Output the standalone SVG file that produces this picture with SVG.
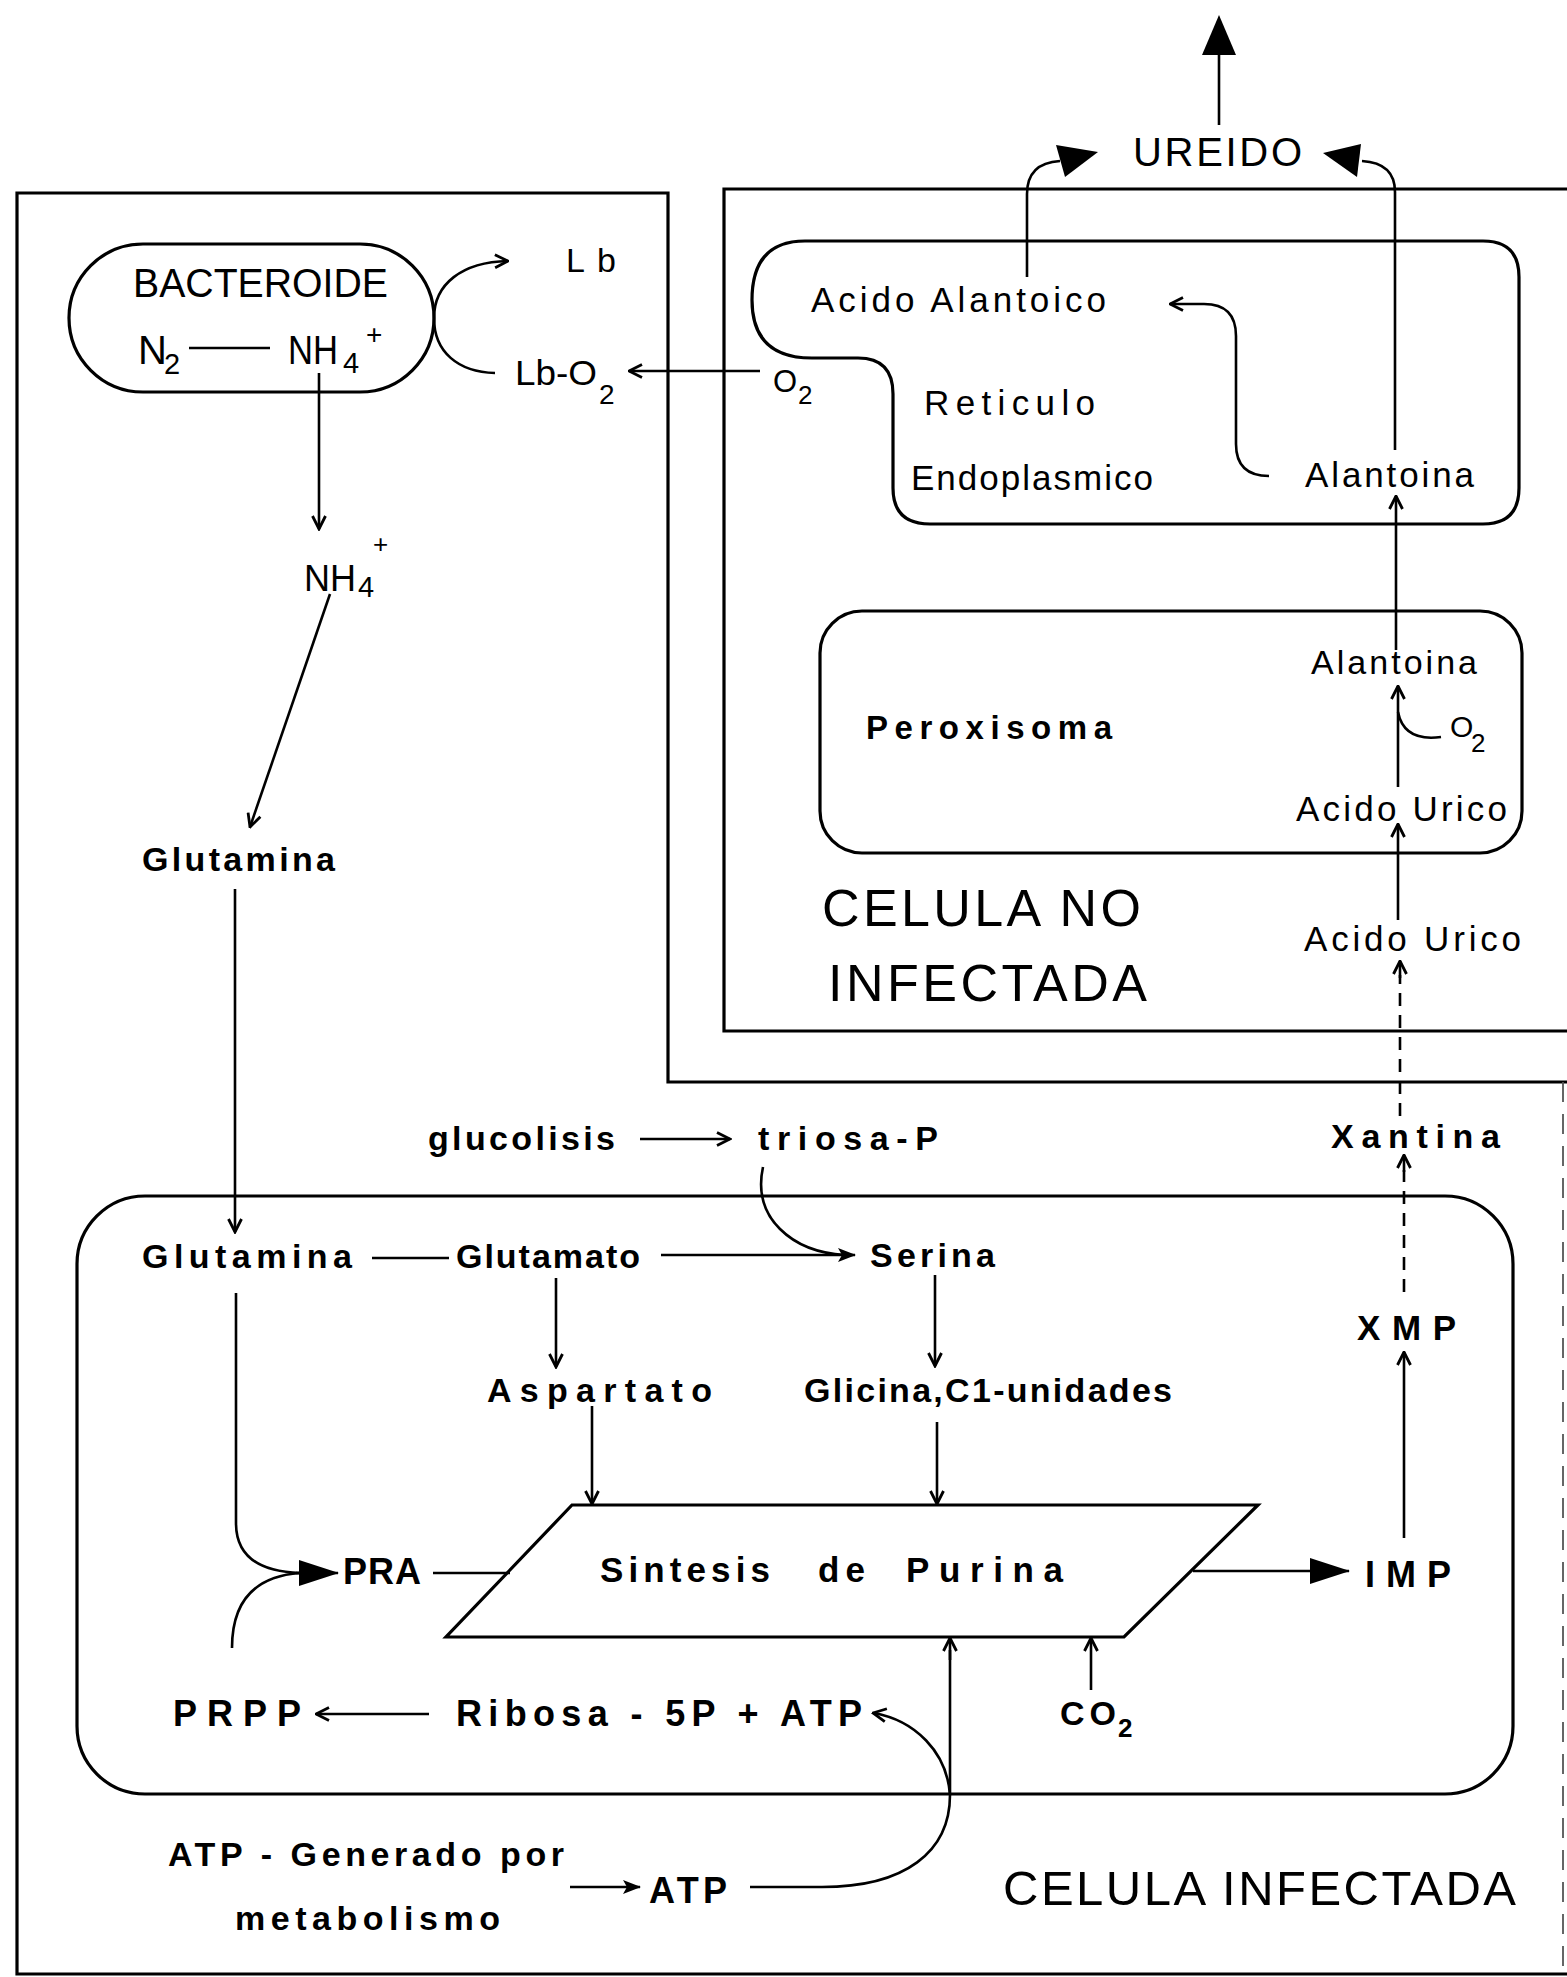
<svg xmlns="http://www.w3.org/2000/svg" width="1567" height="1977" viewBox="0 0 1567 1977">
<style>
text{font-family:"Liberation Sans","DejaVu Sans",Arial,sans-serif;fill:#000}
.b{font-weight:bold}
.frame{fill:none;stroke:#000;stroke-width:3.2}
.mem{fill:none;stroke:#000;stroke-width:3.2}
.ln{fill:none;stroke:#000;stroke-width:2.6}
.dash{fill:none;stroke:#000;stroke-width:2.6;stroke-dasharray:13 9}
.op{marker-end:url(#open)}
</style>
<defs>
<marker id="open" viewBox="0 0 16 16" refX="14.5" refY="8" markerWidth="16" markerHeight="16" markerUnits="userSpaceOnUse" orient="auto"><path d="M1.5,1.5 L14.5,8 L1.5,14.5" fill="none" stroke="#000" stroke-width="2.8"/></marker>
<marker id="big" viewBox="0 0 40 28" refX="39" refY="14" markerWidth="40" markerHeight="28" markerUnits="userSpaceOnUse" orient="auto"><path d="M0,1 L40,14 L0,27 Z" fill="#000"/></marker>
<marker id="small" viewBox="0 0 18 14" refX="17" refY="7" markerWidth="18" markerHeight="14" markerUnits="userSpaceOnUse" orient="auto"><path d="M0,0 L18,7 L0,14 L4,7 Z" fill="#000"/></marker>
</defs>
<rect x="0" y="0" width="1567" height="1977" fill="#fff"/>

<g id="frames">
<path class="frame" d="M1567,1082 H668 V193 H17 V1974 H1567"/>
<path d="M1563,1082 V1974" fill="none" stroke="#555" stroke-width="1.8" stroke-dasharray="20 12"/>
<path class="frame" d="M1567,189 H724 V1031 H1567"/>
</g>

<g id="bacteroide">
<rect class="mem" x="69" y="244" width="365" height="148" rx="74"/>
<text x="133" y="297" font-size="40" textLength="255" lengthAdjust="spacingAndGlyphs">BACTEROIDE</text>
<text x="138" y="364" font-size="40">N</text>
<text x="164" y="374" font-size="29">2</text>
<text x="288" y="364" font-size="40" textLength="50" lengthAdjust="spacingAndGlyphs">NH</text>
<text x="343" y="373" font-size="29">4</text>
<text x="366" y="344" font-size="28">+</text>
</g>

<g id="lb"><text x="566" y="272" font-size="34" textLength="50" lengthAdjust="spacing">Lb</text></g>
<g id="lbo2"><text x="515" y="385" font-size="35" textLength="82" lengthAdjust="spacingAndGlyphs">Lb-O</text><text x="599" y="404" font-size="28">2</text></g>
<g id="o2-left"><text x="773" y="392" font-size="31">O</text><text x="798" y="404" font-size="26">2</text></g>

<g id="ureido"><text x="1133" y="166" font-size="40" textLength="169" lengthAdjust="spacing">UREIDO</text></g>

<g id="reticulo">
<path class="mem" d="M805,241 H1483 Q1519,241 1519,277 V488 Q1519,524 1483,524 H930 Q893,524 893,488 V394 Q893,358 858,358 H812 Q752,358 752,300 Q752,241 805,241 Z"/>
<text x="811" y="312" font-size="35" textLength="295" lengthAdjust="spacing">Acido Alantoico</text>
<text x="924" y="415" font-size="35" textLength="171" lengthAdjust="spacing">Reticulo</text>
<text x="911" y="490" font-size="35" textLength="242" lengthAdjust="spacing">Endoplasmico</text>
<text x="1305" y="487" font-size="35" textLength="169" lengthAdjust="spacing">Alantoina</text>
</g>

<g id="peroxisoma">
<rect class="mem" x="820" y="611" width="702" height="242" rx="42"/>
<text x="866" y="739" font-size="33" class="b" textLength="246" lengthAdjust="spacing">Peroxisoma</text>
<text x="1311" y="674" font-size="34" textLength="166" lengthAdjust="spacing">Alantoina</text>
<text x="1450" y="737" font-size="30">O</text><text x="1471" y="752" font-size="26">2</text>
<text x="1296" y="821" font-size="35" textLength="211" lengthAdjust="spacing">Acido Urico</text>
</g>

<g id="celula-no">
<text x="822" y="926" font-size="52" textLength="319" lengthAdjust="spacing">CELULA NO</text>
<text x="828" y="1001" font-size="52" textLength="319" lengthAdjust="spacing">INFECTADA</text>
</g>
<g id="acido-urico"><text x="1304" y="951" font-size="35" textLength="217" lengthAdjust="spacing">Acido Urico</text></g>

<g id="nh4"><text x="304" y="591" font-size="37" textLength="52" lengthAdjust="spacingAndGlyphs">NH</text><text x="358" y="597" font-size="29">4</text><text x="373" y="553" font-size="26">+</text></g>
<g id="glutamina-1"><text class="b" x="142" y="871" font-size="34" textLength="193" lengthAdjust="spacing">Glutamina</text></g>
<g id="glucolisis"><text class="b" x="428" y="1150" font-size="34" textLength="187" lengthAdjust="spacing">glucolisis</text></g>
<g id="triosa"><text class="b" x="758" y="1150" font-size="34" textLength="180" lengthAdjust="spacing">triosa-P</text></g>
<g id="xantina"><text class="b" x="1331" y="1148" font-size="34" textLength="169" lengthAdjust="spacing">Xantina</text></g>

<g id="celula-infectada">
<rect class="mem" x="77" y="1196" width="1436" height="598" rx="68"/>
<text x="1003" y="1905" font-size="49" textLength="513" lengthAdjust="spacing">CELULA INFECTADA</text>
</g>
<g id="glutamina-2"><text class="b" x="142" y="1268" font-size="34" textLength="210" lengthAdjust="spacing">Glutamina</text></g>
<g id="glutamato"><text class="b" x="456" y="1268" font-size="34" textLength="184" lengthAdjust="spacing">Glutamato</text></g>
<g id="serina"><text class="b" x="870" y="1267" font-size="34" textLength="125" lengthAdjust="spacing">Serina</text></g>
<g id="aspartato"><text class="b" x="487" y="1402" font-size="34" textLength="225" lengthAdjust="spacing">Aspartato</text></g>
<g id="glicina"><text class="b" x="804" y="1402" font-size="34" textLength="368" lengthAdjust="spacing">Glicina,C1-unidades</text></g>
<g id="xmp"><text class="b" x="1357" y="1340" font-size="35" textLength="99" lengthAdjust="spacing">XMP</text></g>
<g id="sintesis">
<polygon class="mem" points="572,1505 1258,1505 1124,1637 446,1637"/>
<text class="b" x="600" y="1582" font-size="35" textLength="170" lengthAdjust="spacing">Sintesis</text>
<text class="b" x="818" y="1582" font-size="35" textLength="47" lengthAdjust="spacing">de</text>
<text class="b" x="906" y="1582" font-size="35" textLength="157" lengthAdjust="spacing">Purina</text>
</g>
<g id="pra"><text class="b" x="343" y="1584" font-size="36" textLength="78" lengthAdjust="spacing">PRA</text></g>
<g id="imp"><text class="b" x="1365" y="1587" font-size="36" textLength="86" lengthAdjust="spacing">IMP</text></g>
<g id="prpp"><text class="b" x="173" y="1726" font-size="36" textLength="128" lengthAdjust="spacing">PRPP</text></g>
<g id="ribosa"><text class="b" x="456" y="1726" font-size="36" textLength="406" lengthAdjust="spacing">Ribosa - 5P + ATP</text></g>
<g id="co2"><text class="b" x="1060" y="1725" font-size="34" textLength="56" lengthAdjust="spacing">CO</text><text class="b" x="1118" y="1737" font-size="26">2</text></g>
<g id="atp-generado">
<text class="b" x="168" y="1866" font-size="34" textLength="396" lengthAdjust="spacing">ATP - Generado por</text>
<text class="b" x="235" y="1930" font-size="34" textLength="265" lengthAdjust="spacing">metabolismo</text>
</g>
<g id="atp"><text class="b" x="649" y="1903" font-size="36" textLength="78" lengthAdjust="spacing">ATP</text></g>

<g id="connectors">
<line class="ln" x1="1219" y1="125" x2="1219" y2="52"/>
<polygon points="1219,15 1202,55 1236,55" fill="#000"/>
<path class="ln" d="M1027,277 V194 Q1027,163 1060,161"/>
<polygon points="1098,152 1056,145 1065,177" fill="#000"/>
<path class="ln" d="M1395,450 V192 Q1395,163 1362,161"/>
<polygon points="1323,153 1361,144 1357,177" fill="#000"/>
<path class="ln op" d="M1269,476 Q1236,476 1236,444 V336 Q1236,304 1204,304 H1170"/>
<path class="ln op" d="M1396,650 V496"/>
<path class="ln op" d="M1398,787 V686"/>
<path class="ln" d="M1441,737 Q1404,742 1398,712"/>
<path class="ln op" d="M1398,920 V824"/>
<path class="dash" d="M1400,1116 V975"/>
<path class="ln op" d="M1400,978 V961"/>
<path class="dash" d="M1404,1292 V1170"/>
<path class="ln op" d="M1404,1172 V1155"/>
<path class="ln op" d="M1404,1538 V1352"/>
<path class="ln" d="M1193,1571 H1349" marker-end="url(#big)"/>
<path class="ln op" d="M760,371 H629"/>
<path class="ln op" d="M434,318 C434,284 462,262 508,261"/>
<path class="ln" d="M434,318 C434,352 458,372 495,373"/>
<line class="ln" x1="189" y1="348" x2="270" y2="348"/>
<path class="ln op" d="M319,373 V529"/>
<path class="ln op" d="M330,594 L250,827"/>
<path class="ln op" d="M235,889 V1232"/>
<path class="ln op" d="M640,1139 H730"/>
<line class="ln" x1="372" y1="1258" x2="449" y2="1258"/>
<path class="ln" d="M661,1255 H855" marker-end="url(#small)"/>
<path class="ln" d="M763,1167 C752,1218 792,1252 845,1255"/>
<path class="ln op" d="M556,1278 V1367"/>
<path class="ln op" d="M935,1275 V1366"/>
<path class="ln op" d="M592,1406 V1504"/>
<path class="ln op" d="M937,1422 V1504"/>
<path class="ln" d="M236,1293 V1523 Q236,1571 300,1573"/>
<path class="ln" d="M232,1648 Q232,1578 300,1573"/>
<path class="ln" d="M296,1573 H338" marker-end="url(#big)"/>
<line class="ln" x1="433" y1="1573" x2="510" y2="1573"/>
<path class="ln op" d="M429,1714 H316"/>
<path class="ln" d="M750,1887 H822 C905,1887 950,1852 950,1795 V1650"/>
<path class="ln op" d="M950,1660 V1638"/>
<path class="ln op" d="M950,1795 C947,1752 915,1720 873,1713"/>
<path class="ln op" d="M1091,1690 V1638"/>
<path class="ln" d="M570,1887 H640" marker-end="url(#small)"/>
</g>
</svg>
